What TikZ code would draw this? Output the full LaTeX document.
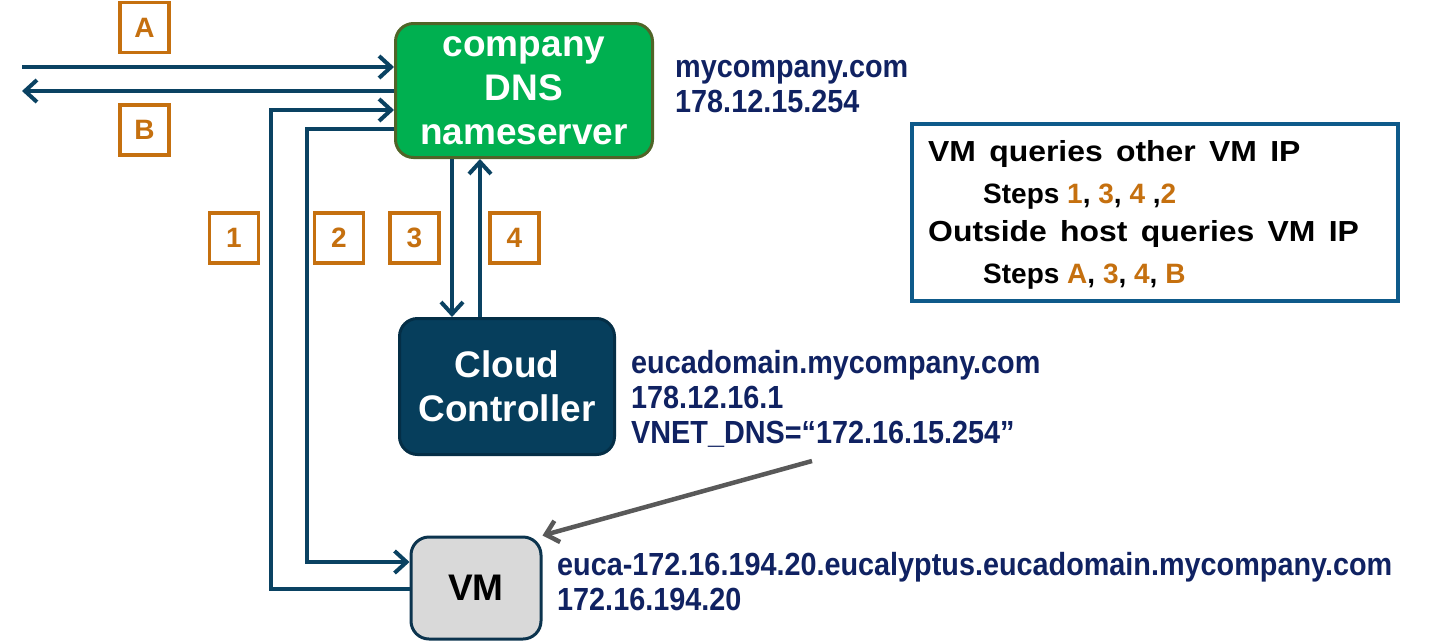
\documentclass[tikz,border=0pt]{standalone}
\usepackage{fontspec}
\setmainfont{Liberation Sans}
\newfontfamily\condfont[FakeStretch=0.9]{Liberation Sans}
\newfontfamily\widefont[FakeStretch=1.1,WordSpace=1.5]{Liberation Sans}
\usetikzlibrary{arrows.meta}
\definecolor{dnsgreen}{RGB}{0,176,80}
\definecolor{dnsborder}{RGB}{80,100,40}
\definecolor{ccfill}{RGB}{6,62,92}
\definecolor{ccborder}{RGB}{4,46,70}
\definecolor{vmfill}{RGB}{217,217,217}
\definecolor{vmborder}{RGB}{12,52,78}
\definecolor{lnblue}{RGB}{10,66,98}
\definecolor{orng}{RGB}{197,112,15}
\definecolor{navytxt}{RGB}{16,34,98}
\definecolor{legblue}{RGB}{14,90,138}
\definecolor{grayarrow}{RGB}{89,89,89}
\begin{document}
\begin{tikzpicture}[x=1pt,y=-1pt,
  box/.style={rounded corners=18pt, line width=3pt, align=center, inner sep=0pt,
    font=\bfseries\fontsize{37}{44}\selectfont},
  lbl/.style={draw=orng, line width=3.5pt, fill=white, text=orng, inner sep=0pt,
    minimum width=49pt, minimum height=50pt, font=\bfseries\fontsize{28}{32}\selectfont},
  addr/.style={anchor=base west, text=navytxt, inner sep=0pt,
    font=\condfont\bfseries\fontsize{32}{35}\selectfont},
  legbig/.style={anchor=base west, inner sep=0pt, font=\widefont\bfseries\fontsize{29}{32}\selectfont},
  legsmall/.style={anchor=base west, inner sep=0pt, font=\bfseries\fontsize{28}{32}\selectfont},
  arr/.style={draw=lnblue, line width=4pt, -{Straight Barb[length=12pt,width=22pt]}},
  grayarr/.style={draw=grayarrow, line width=4.5pt, -{Straight Barb[length=12pt,width=22pt]}}
]
\useasboundingbox (0,0) rectangle (1429,643);

% boxes
\node[box, draw=dnsborder, fill=dnsgreen, text=white, minimum width=257pt, minimum height=134pt]
  (dns) at (524,90.5) {company\\DNS\\nameserver};
\node[box, draw=ccborder, fill=ccfill, text=white, minimum width=215pt, minimum height=136pt]
  (cc) at (507,386.5) {Cloud\\Controller};
\node[box, draw=vmborder, fill=vmfill, text=black, minimum width=130pt, minimum height=102pt]
  (vm) at (476,588) {VM};

% address texts
\node[addr] (dnsname) at (675,77) {mycompany.com};
\node[addr] (dnsip) at (675,112) {178.12.15.254};
\node[addr] (ccname) at (631,373) {eucadomain.mycompany.com};
\node[addr] (ccip) at (631,408) {178.12.16.1};
\node[addr] (ccvnet) at (631,443) {VNET\_DNS=“172.16.15.254”};
\node[addr] (vmname) at (557,575) {euca-172.16.194.20.eucalyptus.eucadomain.mycompany.com};
\node[addr] (vmip) at (557,610) {172.16.194.20};

% legend
\node[draw=legblue, line width=4pt, minimum width=486pt, minimum height=177pt, inner sep=0pt]
  (legend) at (1155,212.5) {};
\node[legbig] (leg1) at (928,161) {VM queries other VM IP};
\node[legsmall] (leg2) at (983,203) {Steps \textcolor{orng}{1}, \textcolor{orng}{3}, \textcolor{orng}{4} ,\textcolor{orng}{2}};
\node[legbig] (leg3) at (928,241) {Outside host queries VM IP};
\node[legsmall] (leg4) at (983,283) {Steps \textcolor{orng}{A}, \textcolor{orng}{3}, \textcolor{orng}{4}, \textcolor{orng}{B}};

% step labels
\node[lbl] (lA) at (144.5,27.5) {A};
\node[lbl] (lB) at (144.5,130) {B};
\node[lbl] (l1) at (234,238) {1};
\node[lbl] (l2) at (339,238) {2};
\node[lbl] (l3) at (414.5,238) {3};
\node[lbl] (l4) at (514.5,238) {4};

% connector helper coordinates
\coordinate (extA) at (22,67);
\coordinate (extB) at (22,91);
\coordinate (r1) at (271,110);
\coordinate (r1b) at (271,589);
\coordinate (r2) at (307,129);
\coordinate (r2b) at (307,562);
\coordinate (x3) at (452,0);
\coordinate (x4) at (480,0);
\coordinate (g) at (812,461);

% connectors
\draw[arr] (extA) -- (extA -| dns.west);
\draw[arr] (extB -| dns.west) -- (extB);
\draw[arr] (r1b -| vm.west) -- (r1b) -- (r1) -- (r1 -| dns.west);
\draw[arr] (r2 -| dns.west) -- (r2) -- (r2b) -- (r2b -| vm.west);
\draw[arr] (x3 |- dns.south) -- (x3 |- cc.north);
\draw[arr] (x4 |- cc.north) -- (x4 |- dns.south);
\draw[grayarr] (g) -- (vm.north east);
\end{tikzpicture}
\end{document}
